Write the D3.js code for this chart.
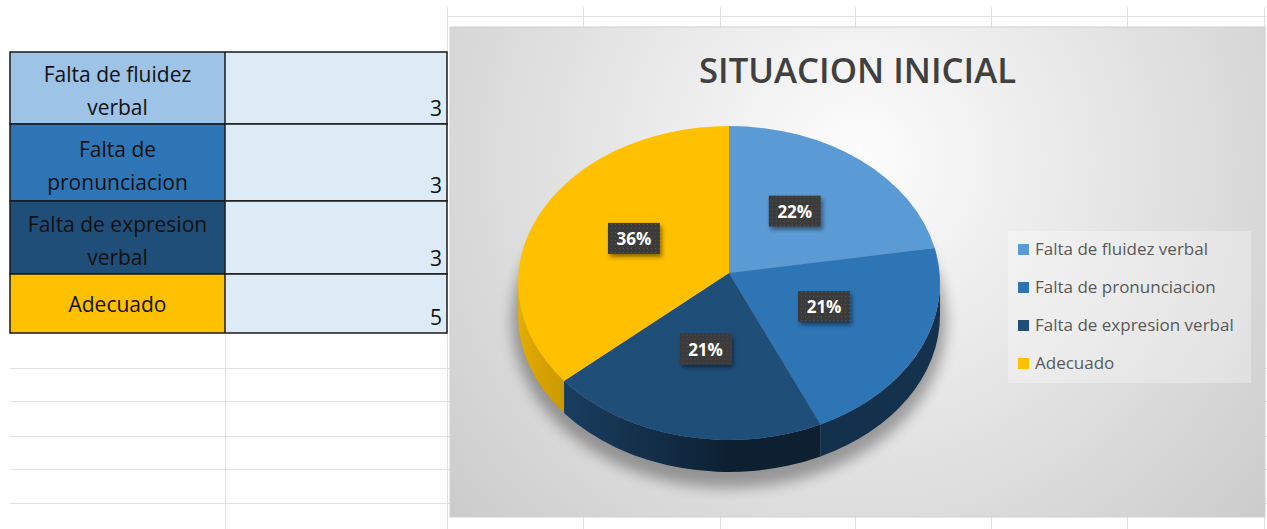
<!DOCTYPE html>
<html>
<head>
<meta charset="utf-8">
<script src="https://cdn.jsdelivr.net/npm/d3@7"></script>
<style>
  body { margin: 0; background: #fff; }
  svg { display: block; }
</style>
</head>
<body>
<svg id="sheet" width="1267" height="529"></svg>
<script>
// data
const categories = ["Falta de fluidez verbal", "Falta de pronunciacion", "Falta de expresion verbal", "Adecuado"];
const counts = [3, 3, 3, 5];
const chartTitle = "SITUACION INICIAL";

// palette
const sliceColors = ["#5B9BD5", "#2E75B6", "#1F4E79", "#FFC000"];
const cellColors = ["#9DC3E6", "#2E75B6", "#1F4E79", "#FFC000"];

const svg = d3.select("#sheet");
const defs = svg.append("defs");

// percentages that add up to 100 (largest remainder)
function roundPercents(vals) {
    let total = d3.sum(vals);
    let raw = vals.map(v => v / total * 100);
    let out = raw.map(Math.floor);
    let left = 100 - d3.sum(out);
    let order = d3.range(vals.length).sort((a, b) => (raw[b] - out[b]) - (raw[a] - out[a]) || a - b);
    for (let i = 0; i < left; i++) out[order[i]]++;
    return out;
}
const percents = roundPercents(counts);

// ---------- spreadsheet grid ----------
const grid = svg.append("g").attr("stroke", "#E1E1E1").attr("stroke-width", 1);
[368, 401, 436, 469, 503].forEach(y => {
    grid.append("line").attr("x1", 10).attr("x2", 1267).attr("y1", y + 0.5).attr("y2", y + 0.5);
});
grid.append("line").attr("x1", 447).attr("x2", 1267).attr("y1", 16.5).attr("y2", 16.5);
[225, 447].forEach(x => {
    grid.append("line").attr("x1", x + 0.5).attr("x2", x + 0.5).attr("y1", 333).attr("y2", 529);
});
grid.append("line").attr("x1", 447.5).attr("x2", 447.5).attr("y1", 7).attr("y2", 52);
[583, 720, 855, 991, 1127, 1264].forEach(x => {
    grid.append("line").attr("x1", x + 0.5).attr("x2", x + 0.5).attr("y1", 7).attr("y2", 529);
});

// ---------- table ----------
const rowTop = d3.scaleOrdinal().domain(categories).range([52, 124, 201, 274]);
const rowBottom = d3.scaleOrdinal().domain(categories).range([124, 201, 274, 333]);
const colX = [10, 225, 447];

let table = svg.append("g");
let rows = table.selectAll("g.row")
    .data(categories)
    .join("g")
    .attr("class", "row");

rows.append("rect")
    .attr("x", colX[0])
    .attr("y", d => rowTop(d))
    .attr("width", colX[1] - colX[0])
    .attr("height", d => rowBottom(d) - rowTop(d))
    .attr("fill", (d, i) => cellColors[i]);

rows.append("rect")
    .attr("x", colX[1])
    .attr("y", d => rowTop(d))
    .attr("width", colX[2] - colX[1])
    .attr("height", d => rowBottom(d) - rowTop(d))
    .attr("fill", "#DDEBF7");

let labelText = rows.append("text")
    .attr("text-anchor", "middle")
    .attr("font-family", "'Open Sans', sans-serif")
    .attr("font-size", 21)
    .attr("fill", "#111");

// wrap names like Excel does in a narrow cell
labelText.each(function(d) {
    let t = d3.select(this);
    let words = d.split(" ");
    let lines = [];
    let line = [];
    let probe = t.append("tspan");
    words.forEach(w => {
        let test = line.concat([w]).join(" ");
        probe.text(test);
        if (probe.node().getComputedTextLength() > 200 && line.length) {
            lines.push(line.join(" "));
            line = [w];
        } else {
            line.push(w);
        }
    });
    lines.push(line.join(" "));
    probe.remove();
    let mid = (rowTop(d) + rowBottom(d)) / 2;
    let x = (colX[0] + colX[1]) / 2;
    let first = lines.length === 1 ? mid + 8 : mid - 6;
    lines.forEach((l, k) => {
        t.append("tspan").attr("x", x).attr("y", first + k * 33).text(l);
    });
});

rows.append("text")
    .attr("x", colX[2] - 5)
    .attr("y", d => rowBottom(d) - 8)
    .attr("text-anchor", "end")
    .attr("font-family", "'Open Sans', sans-serif")
    .attr("font-size", 21)
    .attr("fill", "#111")
    .text((d, i) => counts[i]);

// borders
rows.append("rect")
    .attr("x", colX[0])
    .attr("y", d => rowTop(d))
    .attr("width", colX[2] - colX[0])
    .attr("height", d => rowBottom(d) - rowTop(d))
    .attr("fill", "none")
    .attr("stroke", "#1a1a1a")
    .attr("stroke-width", 1.5);
table.append("line")
    .attr("x1", colX[1]).attr("x2", colX[1])
    .attr("y1", 52).attr("y2", 333)
    .attr("stroke", "#1a1a1a").attr("stroke-width", 1.5);

// ---------- chart ----------
const chart = { x: 450, y: 27, w: 815, h: 490 };

let bg = defs.append("radialGradient")
    .attr("id", "chartBg")
    .attr("gradientUnits", "userSpaceOnUse")
    .attr("cx", chart.x + chart.w / 2).attr("cy", 160)
    .attr("r", 580);
bg.append("stop").attr("offset", 0).attr("stop-color", "#FDFDFD");
bg.append("stop").attr("offset", 0.55).attr("stop-color", "#E0E0E0");
bg.append("stop").attr("offset", 1).attr("stop-color", "#C8C8C8");

svg.append("rect")
    .attr("x", chart.x).attr("y", chart.y)
    .attr("width", chart.w).attr("height", chart.h)
    .attr("fill", "url(#chartBg)")
    .attr("stroke", "#D0D0D0");

svg.append("text")
    .attr("x", chart.x + chart.w / 2)
    .attr("y", 83)
    .attr("text-anchor", "middle")
    .attr("font-family", "'Open Sans', sans-serif")
    .attr("font-weight", 600)
    .attr("font-size", 35)
    .attr("fill", "#404040")
    .attr("textLength", 317)
    .attr("lengthAdjust", "spacingAndGlyphs")
    .text(chartTitle);

// 3D pie geometry
const cx = 729, cy = 283, rx = 211, ry = 157, depth = 32;
const vx = cx, vy = cy - 10; // perspective: apex sits a bit above the rim centre

const rim = (a, dz = 0) => [cx + rx * Math.sin(a), cy - ry * Math.cos(a) + dz];

const pie = d3.pie().sort(null).value(d => d);
const arcs = pie(counts);

// soft shadow under the pie
let blur = defs.append("filter").attr("id", "pieShadow")
    .attr("x", "-20%").attr("y", "-20%").attr("width", "140%").attr("height", "140%");
blur.append("feGaussianBlur").attr("stdDeviation", 7);

svg.append("ellipse")
    .attr("cx", cx).attr("cy", cy + 38)
    .attr("rx", rx + 6).attr("ry", ry + 10)
    .attr("fill", "#000")
    .attr("opacity", 0.33)
    .attr("filter", "url(#pieShadow)");

// side walls
arcs.forEach((a, i) => {
    let g = defs.append("linearGradient")
        .attr("id", "side" + i)
        .attr("gradientUnits", "userSpaceOnUse")
        .attr("x1", cx - rx).attr("x2", cx + rx)
        .attr("y1", 0).attr("y2", 0);
    let base = d3.color(sliceColors[i]);
    [[0, 0.3], [0.2, 1.0], [0.5, 2.5], [1, 2.4]].forEach(([o, k]) => {
        g.append("stop").attr("offset", o).attr("stop-color", base.darker(k).formatHex());
    });
});

function sidePath(a) {
    let s = Math.max(a.startAngle, Math.PI / 2);
    let e = Math.min(a.endAngle, 3 * Math.PI / 2);
    if (e <= s) return null;
    let p0 = rim(s), p1 = rim(e), q1 = rim(e, depth), q0 = rim(s, depth);
    return `M${p0}A${rx},${ry} 0 0 1 ${p1}L${q1}A${rx},${ry} 0 0 0 ${q0}Z`;
}

function topPath(a) {
    let p0 = rim(a.startAngle), p1 = rim(a.endAngle);
    let large = a.endAngle - a.startAngle > Math.PI ? 1 : 0;
    return `M${vx},${vy}L${p0}A${rx},${ry} 0 ${large} 1 ${p1}Z`;
}

let pieG = svg.append("g");
pieG.selectAll("path.side")
    .data(arcs.filter(a => sidePath(a)))
    .join("path")
    .attr("class", "side")
    .attr("d", sidePath)
    .attr("fill", a => `url(#side${a.index})`);

pieG.selectAll("path.top")
    .data(arcs)
    .join("path")
    .attr("class", "top")
    .attr("d", topPath)
    .attr("fill", a => sliceColors[a.index]);

// data labels
let dots = defs.append("pattern")
    .attr("id", "dots")
    .attr("patternUnits", "userSpaceOnUse")
    .attr("width", 4).attr("height", 4);
dots.append("rect").attr("width", 4).attr("height", 4).attr("fill", "#3B3B3B");
dots.append("rect").attr("x", 1).attr("y", 1).attr("width", 1).attr("height", 1).attr("fill", "#555");

let drop = defs.append("filter").attr("id", "boxShadow")
    .attr("x", "-30%").attr("y", "-30%").attr("width", "160%").attr("height", "160%");
drop.append("feDropShadow")
    .attr("dx", 2).attr("dy", 3).attr("stdDeviation", 2)
    .attr("flood-color", "#000").attr("flood-opacity", 0.45);

let labels = svg.append("g").selectAll("g")
    .data(arcs)
    .join("g")
    .attr("transform", a => {
        let m = (a.startAngle + a.endAngle) / 2;
        return `translate(${vx + 0.5 * rx * Math.sin(m)},${vy - 0.5 * ry * Math.cos(m)})`;
    });

labels.append("rect")
    .attr("x", -26).attr("y", -16)
    .attr("width", 52).attr("height", 31)
    .attr("fill", "url(#dots)")
    .attr("filter", "url(#boxShadow)");

labels.append("text")
    .attr("y", 6)
    .attr("text-anchor", "middle")
    .attr("font-family", "'Open Sans', sans-serif")
    .attr("font-weight", 700)
    .attr("font-size", 17)
    .attr("fill", "#fff")
    .text(a => percents[a.index] + "%");

// legend
svg.append("rect")
    .attr("x", 1008).attr("y", 231)
    .attr("width", 243).attr("height", 152)
    .attr("fill", "#fff")
    .attr("opacity", 0.3);

let legendY = d3.scalePoint().domain(categories).range([255, 369]);

let legend = svg.append("g").selectAll("g")
    .data(categories)
    .join("g")
    .attr("transform", d => `translate(1018,${legendY(d)})`);

legend.append("rect")
    .attr("x", 0).attr("y", -11)
    .attr("width", 11).attr("height", 11)
    .attr("fill", (d, i) => sliceColors[i]);

legend.append("text")
    .attr("x", 17)
    .attr("y", 0)
    .attr("font-family", "'Open Sans', sans-serif")
    .attr("font-size", 17)
    .attr("fill", "#595959")
    .text(d => d);
</script>
</body>
</html>
